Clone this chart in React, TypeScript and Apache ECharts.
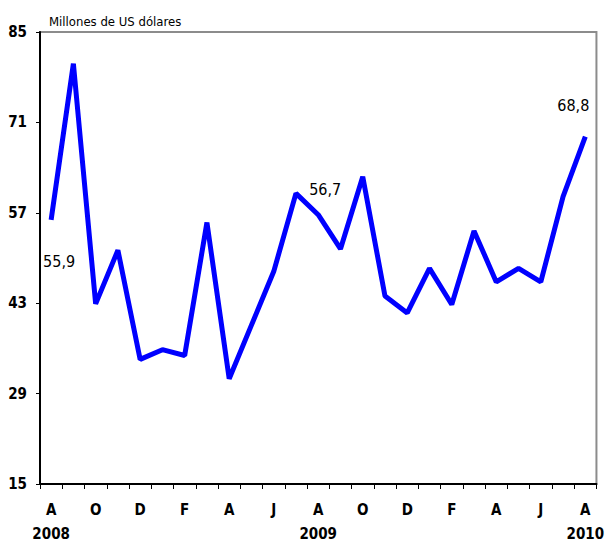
import React, { useEffect, useRef } from "react";
import * as echarts from "echarts";

const months = ["A","S","O","N","D","E","F","M","A","M","J","J","A","S","O","N","D","E","F","M","A","M","J","J","A"];
const years: Record<number, string> = { 0: "2008", 12: "2009", 24: "2010" };
const values = [55.9, 80.1, 42.9, 51.2, 34.3, 35.8, 34.9, 55.5, 31.3, 39.6, 47.9, 60.0, 56.7, 51.4, 62.6, 44.1, 41.5, 48.4, 42.8, 54.2, 46.3, 48.4, 46.3, 59.5, 68.8];
const yTicks = [15, 29, 43, 57, 71, 85];
const labelled: Record<number, { pos: string; dist: number; off: number[] }> = {
  0: { pos: "bottom", dist: 34, off: [8, 0] },
  12: { pos: "top", dist: 17, off: [7, 0] },
  24: { pos: "top", dist: 23, off: [-12, 0] },
};

const FONT = "'DejaVu Sans Condensed', 'Liberation Sans Narrow', sans-serif";

export default function App() {
  const ref = useRef<HTMLDivElement>(null);
  useEffect(() => {
    document.body.style.margin = "0";
    document.body.style.overflow = "hidden";
    const chart = echarts.init(ref.current!, null, { renderer: "svg" });
    const data = values.map((v, i) => {
      const l = labelled[i];
      if (!l) return v;
      return {
        value: v,
        label: {
          show: true,
          position: l.pos,
          distance: l.dist,
          offset: l.off,
          formatter: (p: any) => String(p.value).replace(".", ","),
          color: "#000",
          fontFamily: FONT,
          fontSize: 16,
        },
      };
    });
    chart.setOption({
      animation: false,
      textStyle: { fontFamily: FONT },
      title: {
        text: "Millones de US dólares",
        left: 44,
        top: 10,
        textStyle: { fontFamily: FONT, fontSize: 13, fontWeight: "normal", color: "#000" },
      },
      grid: {
        left: 40, right: 6, top: 32, bottom: 56,
        show: true, borderColor: "#8c8c8c", borderWidth: 2, backgroundColor: "transparent",
      },
      xAxis: {
        type: "category",
        data: months,
        boundaryGap: true,
        axisLine: { lineStyle: { color: "#000", width: 2 } },
        axisTick: { show: true, interval: 0, length: 5, lineStyle: { color: "#000" } },
        axisLabel: {
          interval: 1,
          margin: 14,
          color: "#000",
          fontFamily: FONT,
          fontSize: 15,
          fontWeight: "bold",
          lineHeight: 24,
          formatter: (v: string, i: number) => (years[i] ? v + "\n" + years[i] : v),
        },
        splitLine: { show: false },
      },
      yAxis: {
        type: "value",
        min: 15,
        max: 85,
        axisLine: { show: true, lineStyle: { color: "#000", width: 2 } },
        axisTick: { show: true, length: 4, customValues: yTicks, lineStyle: { color: "#000" } },
        axisLabel: {
          customValues: yTicks,
          margin: 13,
          color: "#000",
          fontFamily: FONT,
          fontSize: 15,
          fontWeight: "bold",
        },
        splitLine: { show: false },
      },
      series: [
        {
          type: "line",
          data,
          symbol: "circle",
          symbolSize: 0,
          showSymbol: true,
          itemStyle: { color: "#0000ff" },
          lineStyle: { color: "#0000ff", width: 5 },
        },
      ],
    });
    return () => chart.dispose();
  }, []);
  return <div ref={ref} style={{ width: 607, height: 546 }} />;
}
